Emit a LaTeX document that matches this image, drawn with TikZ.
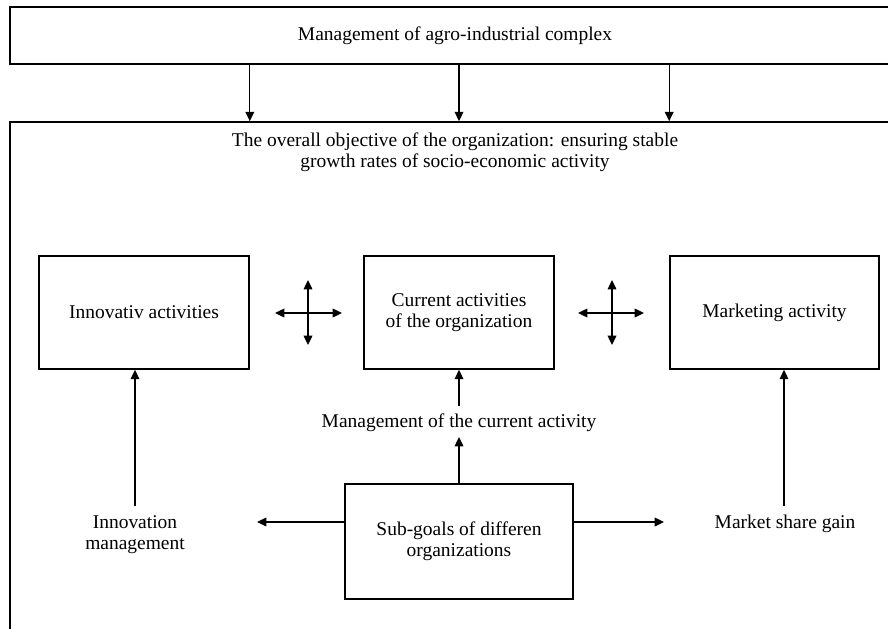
\documentclass[tikz,border=0pt]{standalone}
\usepackage{fontspec}
\setmainfont{Liberation Serif}
\usetikzlibrary{arrows.meta}
\begin{document}
\begin{tikzpicture}[x=0.75pt,y=-0.75pt,
  txt/.style={inner sep=0pt,align=center,font=\fontsize{14.6}{15.8}\selectfont},
  box/.style={txt,draw,line width=1.2pt},
  arr/.style={line width=1pt,-{Triangle[length=7pt,width=6.5pt]}},
  dbl/.style={line width=1pt,{Triangle[length=7pt,width=6.5pt]}-{Triangle[length=7pt,width=6.5pt]}}]
\useasboundingbox (0,0) rectangle (888,628);
\clip (0,0) rectangle (888,628);
\fill[white] (0,0) rectangle (888,628);
% outer frames
\node[box,minimum width=667.5pt,minimum height=42.75pt] (apk) at (455,35.5) {Management of agro-industrial complex};
\node[box,minimum width=667.5pt,minimum height=403.5pt] (org) at (455,391) {};
\node[txt] (obj) at (455,152) {The overall objective of the organization: ensuring stable\\growth rates of socio-economic activity};
% activity boxes
\node[box,minimum width=157.5pt,minimum height=84.75pt] (inn) at (144,312.5) {Innovativ activities};
\node[box,minimum width=142.5pt,minimum height=84.75pt] (cur) at (459,312.5) {Current activities\\of the organization};
\node[box,minimum width=156.75pt,minimum height=84.75pt] (mkt) at (774.5,312.5) {Marketing activity};
\node[box,minimum width=171pt,minimum height=86.25pt] (sub) at (459,541.5) {Sub-goals of differen\\organizations};
% labels
\node[txt] (mca) at (459,423) {Management of the current activity};
\node[txt] (im) at (135,535) {Innovation\\management};
\node[txt] (msg) at (785,524) {Market share gain};
% top arrows
\draw[arr] (inn.east |- apk.south) -- (inn.east |- org.north);
\draw[arr] (cur.center |- apk.south) -- (cur.center |- org.north);
\draw[arr] (mkt.west |- apk.south) -- (mkt.west |- org.north);
% cross arrows
\coordinate (c1w) at (275,313); \coordinate (c1e) at (342,313);
\coordinate (c1n) at (308,280); \coordinate (c1s) at (308,345);
\coordinate (c2w) at (578,313); \coordinate (c2e) at (644,313);
\coordinate (c2n) at (612,280); \coordinate (c2s) at (612,345);
\draw[dbl] (c1w) -- (c1e);
\draw[dbl] (c1n) -- (c1s);
\draw[dbl] (c2w) -- (c2e);
\draw[dbl] (c2n) -- (c2s);
% vertical arrows
\draw[arr] (im.north |- 0,506) -- (im.north |- inn.south);
\draw[arr] (784,506) -- (784,0 |- mkt.south);
\draw[arr] (sub.north) -- (mca.south |- 0,437);
\draw[arr] (mca.north |- 0,406) -- (cur.south);
% side arrows
\coordinate (le) at (257,522);
\coordinate (re) at (664,522);
\draw[arr] (sub.west |- le) -- (le);
\draw[arr] (sub.east |- re) -- (re);
\end{tikzpicture}
\end{document}
